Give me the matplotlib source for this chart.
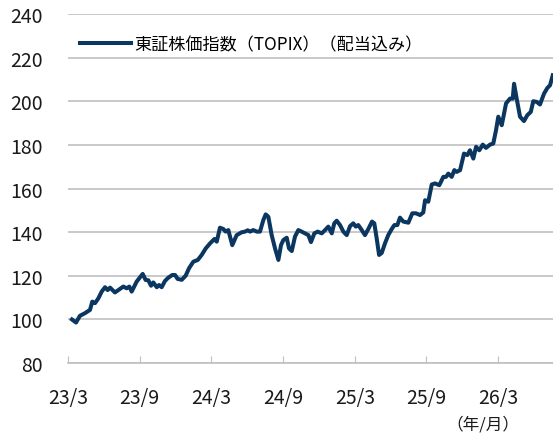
import matplotlib

matplotlib.use("Agg")
import matplotlib.pyplot as plt

plt.rcParams["font.family"] = ["Noto Sans CJK JP", "DejaVu Sans"]

# months elapsed since 2023/3
MONTHS = [
    0.33, 0.67, 1.00, 1.42, 1.84, 2.03, 2.26, 2.54, 2.82, 3.10,
    3.32, 3.52, 3.93, 4.21, 4.63, 4.91, 5.13, 5.33, 5.75, 6.03,
    6.25, 6.50, 6.72, 6.95, 7.14, 7.43, 7.62, 7.84, 8.12, 8.40,
    8.73, 8.96, 9.18, 9.52, 9.85, 10.13, 10.49, 10.86, 11.19, 11.53,
    11.89, 12.25, 12.45, 12.72, 13.00, 13.20, 13.42, 13.75, 14.12, 14.54,
    14.82, 15.04, 15.24, 15.51, 15.80, 16.07, 16.35, 16.55, 16.77, 17.05,
    17.33, 17.61, 17.83, 18.02, 18.31, 18.50, 18.73, 19.00, 19.28, 19.56,
    19.84, 20.12, 20.34, 20.62, 20.90, 21.24, 21.52, 21.79, 22.08, 22.29,
    22.49, 22.77, 23.05, 23.33, 23.61, 23.88, 24.09, 24.30, 24.59, 24.86,
    25.14, 25.45, 25.64, 25.84, 26.04, 26.26, 26.54, 26.81, 27.10, 27.32,
    27.57, 27.79, 28.07, 28.49, 28.82, 29.13, 29.47, 29.74, 29.89, 30.16,
    30.45, 30.72, 31.08, 31.42, 31.64, 31.84, 32.12, 32.34, 32.54, 32.82,
    33.15, 33.43, 33.65, 33.93, 34.16, 34.43, 34.72, 34.99, 35.33, 35.60,
    35.83, 36.02, 36.31, 36.67, 37.00, 37.23, 37.34, 37.56, 37.84, 38.17,
    38.45, 38.74, 38.95, 39.24, 39.51, 39.85, 40.13, 40.35, 40.58,
]

TOPIX = [
    100.0, 98.6, 101.7, 102.9, 104.4, 108.2, 107.5, 109.7, 112.8, 114.8,
    113.5, 114.6, 112.4, 113.5, 115.1, 114.3, 115.1, 112.8, 117.4, 119.4,
    120.9, 118.1, 118.0, 115.5, 117.0, 114.8, 115.8, 114.8, 117.7, 119.2,
    120.4, 120.4, 118.6, 118.2, 120.1, 123.5, 126.5, 127.3, 129.6, 132.6,
    134.9, 136.9, 135.7, 142.1, 141.5, 140.3, 141.0, 134.1, 138.7, 140.0,
    140.3, 140.9, 140.3, 141.0, 140.3, 140.3, 145.6, 148.2, 147.1, 138.7,
    132.6, 127.3, 134.1, 136.4, 137.5, 132.6, 131.4, 138.0, 141.0, 140.3,
    139.5, 138.7, 135.5, 139.5, 140.3, 139.5, 141.0, 142.6, 139.5, 144.1,
    145.3, 143.3, 140.3, 138.7, 142.8, 144.1, 142.6, 143.3, 141.0, 138.7,
    141.5, 144.9, 144.1, 137.2, 129.6, 130.5, 135.0, 138.7, 141.5, 143.3,
    143.3, 146.7, 144.9, 144.4, 148.7, 148.7, 147.9, 149.1, 154.7, 154.0,
    161.9, 162.4, 161.6, 165.4, 165.4, 166.9, 165.4, 168.5, 167.7, 168.5,
    176.1, 175.4, 177.6, 173.8, 179.2, 177.6, 180.2, 178.7, 180.2, 180.7,
    186.8, 193.0, 189.1, 199.1, 201.3, 201.3, 208.1, 201.3, 193.0, 191.0,
    193.7, 195.2, 200.1, 199.8, 198.6, 203.6, 206.2, 207.4, 212.0,
]

TICK_MONTHS = [0, 6, 12, 18, 24, 30, 36]
TICK_LABELS = ["23/3", "23/9", "24/3", "24/9", "25/3", "25/9", "26/3"]
LINE_LABEL = "東証株価指数（TOPIX）（配当込み）"

fig = plt.figure(figsize=(5.53, 4.35), dpi=100)
ax = fig.add_axes([0.123, 0.163, 0.877, 0.802])

ax.plot(MONTHS, TOPIX, color="#0b3660", linewidth=2.9, label=LINE_LABEL,
        solid_joinstyle="round", zorder=3)

ax.set_xlim(0, 40.6)
ax.set_ylim(80, 240)
ax.set_yticks(range(80, 241, 20))
ax.set_xticks(TICK_MONTHS)
ax.set_xticklabels(TICK_LABELS)

ax.grid(axis="y", color="#c0c0c0", linewidth=1.2)
ax.set_axisbelow(True)
for side in ["left", "right", "top"]:
    ax.spines[side].set_visible(False)
ax.spines["bottom"].set_color("#c0c0c0")
ax.spines["bottom"].set_linewidth(1.2)

ax.tick_params(axis="y", length=0, pad=18, labelsize=14, labelcolor="#1a1a1a")
ax.tick_params(axis="x", direction="in", length=5, color="#c0c0c0",
               pad=17.5, labelsize=14, labelcolor="#1a1a1a")

leg = ax.legend(loc="upper left", bbox_to_anchor=(0.0, 0.975), frameon=False,
                fontsize=12.3, handlelength=3.0, handletextpad=0.2,
                borderaxespad=0.3)

fig.text(0.94, 0.024, "（年/月）", ha="right", va="center", fontsize=12,
         color="#1a1a1a")

fig.savefig("out.png", dpi=100)
